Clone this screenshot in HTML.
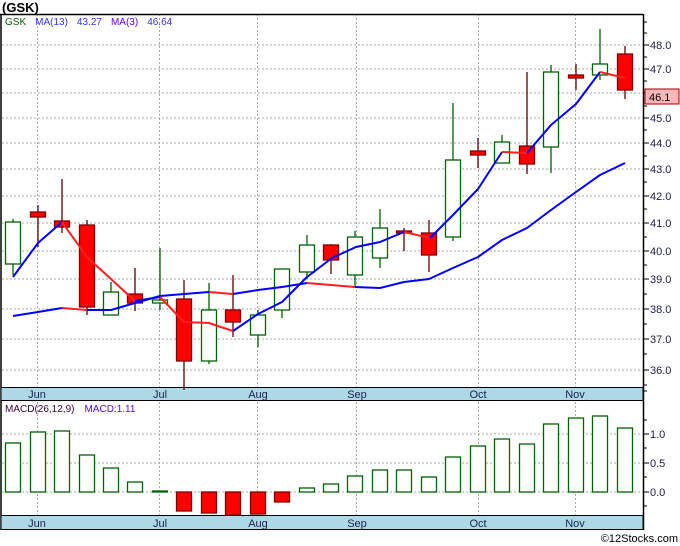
<!DOCTYPE html>
<html><head><meta charset="utf-8"><style>
body{margin:0;background:#fff}
svg{display:block;font-family:"Liberation Sans","DejaVu Sans",sans-serif}
</style></head><body>
<svg width="680" height="546" viewBox="0 0 680 546" xmlns="http://www.w3.org/2000/svg">
<rect width="680" height="546" fill="#fff"/>
<text x="2" y="12" font-size="13" font-weight="bold" fill="#000">(GSK)</text>
<!-- grid -->
<g stroke="#aaa" stroke-dasharray="2,2" stroke-width="1">
<line x1="2" x2="643" y1="45" y2="45"/><line x1="2" x2="643" y1="69" y2="69"/><line x1="2" x2="643" y1="93" y2="93"/>
<line x1="2" x2="643" y1="118" y2="118"/><line x1="2" x2="643" y1="143" y2="143"/><line x1="2" x2="643" y1="169" y2="169"/>
<line x1="2" x2="643" y1="196" y2="196"/><line x1="2" x2="643" y1="223" y2="223"/><line x1="2" x2="643" y1="251" y2="251"/>
<line x1="2" x2="643" y1="279" y2="279"/><line x1="2" x2="643" y1="309" y2="309"/><line x1="2" x2="643" y1="339" y2="339"/>
<line x1="2" x2="643" y1="370" y2="370"/>
<line x1="2" x2="643" y1="434" y2="434"/><line x1="2" x2="643" y1="463" y2="463"/><line x1="2" x2="643" y1="492" y2="492"/>
<line x1="37.5" x2="37.5" y1="14" y2="516"/><line x1="159.5" x2="159.5" y1="14" y2="516"/><line x1="257.5" x2="257.5" y1="14" y2="516"/>
<line x1="356.5" x2="356.5" y1="14" y2="516"/><line x1="478.5" x2="478.5" y1="14" y2="516"/><line x1="575.5" x2="575.5" y1="14" y2="516"/>
</g>
<!-- frame -->
<g stroke="#000" stroke-width="1.5" fill="none">
<line x1="0" x2="643" y1="14.5" y2="14.5"/>
<line x1="1" x2="1" y1="14" y2="530"/>
<line x1="643.5" x2="643.5" y1="14" y2="530"/>
</g>
<!-- bands -->
<rect x="1" y="387.5" width="642" height="13" fill="#add8e6" stroke="#000" stroke-width="1"/>
<rect x="1" y="515.5" width="642" height="14" fill="#add8e6" stroke="#000" stroke-width="1"/>
<g font-size="11" fill="#202050" text-anchor="middle">
<text x="37" y="398">Jun</text><text x="160" y="398">Jul</text><text x="258" y="398">Aug</text><text x="357" y="398">Sep</text><text x="478" y="398">Oct</text><text x="575" y="398">Nov</text>
<text x="37" y="527">Jun</text><text x="160" y="527">Jul</text><text x="258" y="527">Aug</text><text x="357" y="527">Sep</text><text x="478" y="527">Oct</text><text x="575" y="527">Nov</text>
</g>
<!-- right axis ticks -->
<g stroke="#000" stroke-width="1">
<line x1="643" x2="649" y1="45" y2="45"/><line x1="643" x2="649" y1="69" y2="69"/><line x1="643" x2="649" y1="93" y2="93"/><line x1="643" x2="649" y1="118" y2="118"/><line x1="643" x2="649" y1="143" y2="143"/><line x1="643" x2="649" y1="169" y2="169"/><line x1="643" x2="649" y1="196" y2="196"/><line x1="643" x2="649" y1="223" y2="223"/><line x1="643" x2="649" y1="251" y2="251"/><line x1="643" x2="649" y1="279" y2="279"/><line x1="643" x2="649" y1="309" y2="309"/><line x1="643" x2="649" y1="339" y2="339"/><line x1="643" x2="649" y1="370" y2="370"/>
<line x1="643" x2="647" y1="22" y2="22"/><line x1="643" x2="647" y1="33" y2="33"/><line x1="643" x2="647" y1="57" y2="57"/><line x1="643" x2="647" y1="81" y2="81"/><line x1="643" x2="647" y1="106" y2="106"/><line x1="643" x2="647" y1="130" y2="130"/><line x1="643" x2="647" y1="156" y2="156"/><line x1="643" x2="647" y1="182" y2="182"/><line x1="643" x2="647" y1="209" y2="209"/><line x1="643" x2="647" y1="237" y2="237"/><line x1="643" x2="647" y1="265" y2="265"/><line x1="643" x2="647" y1="294" y2="294"/><line x1="643" x2="647" y1="324" y2="324"/><line x1="643" x2="647" y1="354" y2="354"/><line x1="643" x2="647" y1="385" y2="385"/><line x1="643" x2="647" y1="391" y2="391"/>
<line x1="643" x2="649" y1="434" y2="434"/><line x1="643" x2="649" y1="463" y2="463"/><line x1="643" x2="649" y1="492" y2="492"/>
<line x1="643" x2="647" y1="420" y2="420"/><line x1="643" x2="647" y1="448" y2="448"/><line x1="643" x2="647" y1="477" y2="477"/><line x1="643" x2="647" y1="506" y2="506"/>
</g>
<g font-size="11" fill="#202050">
<text x="650" y="49">48.0</text><text x="650" y="73">47.0</text><text x="650" y="122">45.0</text><text x="650" y="147">44.0</text><text x="650" y="173">43.0</text><text x="650" y="200">42.0</text><text x="650" y="227">41.0</text><text x="650" y="255">40.0</text><text x="650" y="283">39.0</text><text x="650" y="313">38.0</text><text x="650" y="343">37.0</text><text x="650" y="374">36.0</text>
<text x="650" y="438">1.0</text><text x="650" y="467">0.5</text><text x="650" y="496">0.0</text>
</g>
<rect x="645" y="89" width="34" height="15" fill="#ffb6b6" stroke="#a00" stroke-width="1"/>
<text x="649" y="101" font-size="11" fill="#000">46.1</text>
<!-- legend -->
<text x="5" y="25" font-size="10"><tspan fill="#006400">GSK</tspan><tspan fill="#3333ff" dx="9">MA(13)</tspan><tspan fill="#3333ff" dx="9">43.27</tspan><tspan fill="#6600ff" dx="9">MA(3)</tspan><tspan fill="#3333ff" dx="9">46.64</tspan></text>
<text x="5" y="412" font-size="10"><tspan fill="#400040">MACD(26,12,9)</tspan><tspan fill="#6600ff" dx="10">MACD:1.11</tspan></text>
<!-- wicks -->
<g stroke-width="1.3">
<g stroke="#006400">
<line x1="13" x2="13" y1="219" y2="275"/><line x1="111" x2="111" y1="282" y2="315"/><line x1="160" x2="160" y1="248" y2="310"/><line x1="209" x2="209" y1="283" y2="364"/><line x1="258" x2="258" y1="310" y2="347"/><line x1="282" x2="282" y1="269" y2="318"/><line x1="307" x2="307" y1="235" y2="279"/><line x1="355" x2="355" y1="231" y2="288"/><line x1="380" x2="380" y1="209" y2="268"/><line x1="453" x2="453" y1="103" y2="241"/><line x1="502" x2="502" y1="135" y2="163"/><line x1="551" x2="551" y1="65" y2="173"/><line x1="600" x2="600" y1="29" y2="80"/>
</g>
<g stroke="#600000">
<line x1="38" x2="38" y1="205" y2="247"/><line x1="62" x2="62" y1="179" y2="233"/><line x1="87" x2="87" y1="220" y2="315"/><line x1="135" x2="135" y1="268" y2="311"/><line x1="184" x2="184" y1="280" y2="390"/><line x1="233" x2="233" y1="275" y2="337"/><line x1="331" x2="331" y1="244" y2="274"/><line x1="404" x2="404" y1="228" y2="251"/><line x1="429" x2="429" y1="220" y2="272"/><line x1="478" x2="478" y1="138" y2="168"/><line x1="527" x2="527" y1="72" y2="174"/><line x1="576" x2="576" y1="64" y2="90"/><line x1="625" x2="625" y1="46" y2="99"/>
</g>
</g>
<!-- bodies -->
<g fill="#fff" stroke="#006400" stroke-width="1.3">
<rect x="5.5" y="222" width="15" height="42"/><rect x="103.5" y="292" width="15" height="23"/><rect x="152.5" y="300" width="15" height="3"/><rect x="201.5" y="310" width="15" height="51"/><rect x="250.5" y="315" width="15" height="20"/><rect x="274.5" y="269" width="15" height="41"/><rect x="299.5" y="245" width="15" height="27"/><rect x="347.5" y="237" width="15" height="38"/><rect x="372.5" y="228" width="15" height="30"/><rect x="445.5" y="160" width="15" height="77"/><rect x="494.5" y="142" width="15" height="21"/><rect x="543.5" y="72" width="15" height="75"/><rect x="592.5" y="64" width="15" height="11"/>
</g>
<g fill="#f00" stroke="#800000" stroke-width="1.3">
<rect x="30.5" y="212" width="15" height="5"/><rect x="54.5" y="221" width="15" height="6"/><rect x="79.5" y="225" width="15" height="82"/><rect x="127.5" y="294" width="15" height="9"/><rect x="176.5" y="299" width="15" height="62"/><rect x="225.5" y="310" width="15" height="12"/><rect x="323.5" y="245" width="15" height="15"/><rect x="396.5" y="231" width="15" height="2"/><rect x="421.5" y="233" width="15" height="22"/><rect x="470.5" y="151" width="15" height="4"/><rect x="519.5" y="146" width="15" height="18"/><rect x="568.5" y="75" width="15" height="3"/><rect x="617.5" y="54" width="15" height="36"/>
</g>
<!-- MA13 -->
<g fill="none" stroke-width="2" stroke-linejoin="round">
<polyline stroke="#0000ff" points="13,316 38,312 62,308"/>
<polyline stroke="#ff2020" points="62,308 87,310"/>
<polyline stroke="#0000ff" points="87,310 111,310 135,303 160,296 184,294 209,292"/>
<polyline stroke="#ff2020" points="209,292 233,294"/>
<polyline stroke="#0000ff" points="233,294 258,290 282,287 307,283"/>
<polyline stroke="#ff2020" points="307,283 331,285 355,287"/>
<polyline stroke="#0000ff" points="355,287 380,288 404,282 429,279 453,268 478,257 502,240 527,228 551,210 576,192 600,175 625,163"/>
<!-- MA3 -->
<polyline stroke="#0000ff" points="13,277 38,243 62,222"/>
<polyline stroke="#ff2020" points="62,222 87,257 135,301"/>
<polyline stroke="#0000ff" points="135,301 160,297"/>
<polyline stroke="#ff2020" points="160,297 184,322 209,323 233,331"/>
<polyline stroke="#0000ff" points="233,331 258,314 282,302 307,277 332,258 356,247 380,242 404,232"/>
<polyline stroke="#ff2020" points="404,232 430,238"/>
<polyline stroke="#0000ff" points="430,238 453,215 478,189 502,152"/>
<polyline stroke="#ff2020" points="502,152 527,153"/>
<polyline stroke="#0000ff" points="527,153 551,125 576,104 600,72"/>
<polyline stroke="#ff2020" points="600,72 625,78"/>
</g>
<!-- MACD -->
<g fill="#fff" stroke="#006400" stroke-width="1.3">
<rect x="5.5" y="443" width="15" height="49"/><rect x="30.5" y="432" width="15" height="60"/><rect x="54.5" y="431" width="15" height="61"/><rect x="79.5" y="455" width="15" height="37"/><rect x="103.5" y="468" width="15" height="24"/><rect x="127.5" y="482" width="15" height="10"/><rect x="152.5" y="491" width="15" height="1"/>
<rect x="299.5" y="488" width="15" height="4"/><rect x="323.5" y="484" width="15" height="8"/><rect x="347.5" y="476" width="15" height="16"/><rect x="372.5" y="470" width="15" height="22"/><rect x="396.5" y="470" width="15" height="22"/><rect x="421.5" y="477" width="15" height="15"/><rect x="445.5" y="457" width="15" height="35"/><rect x="470.5" y="446" width="15" height="46"/><rect x="494.5" y="439" width="15" height="53"/><rect x="519.5" y="444" width="15" height="48"/><rect x="543.5" y="424" width="15" height="68"/><rect x="568.5" y="418" width="15" height="74"/><rect x="592.5" y="416" width="15" height="76"/><rect x="617.5" y="428" width="15" height="64"/>
</g>
<g fill="#f00" stroke="#800000" stroke-width="1.3">
<rect x="176.5" y="492" width="15" height="19"/><rect x="201.5" y="492" width="15" height="21"/><rect x="225.5" y="492" width="15" height="23"/><rect x="250.5" y="492" width="15" height="22"/><rect x="274.5" y="492" width="15" height="10"/>
</g>
<text x="678" y="542" font-size="11" fill="#000" text-anchor="end">©12Stocks.com</text>
</svg>
</body></html>
